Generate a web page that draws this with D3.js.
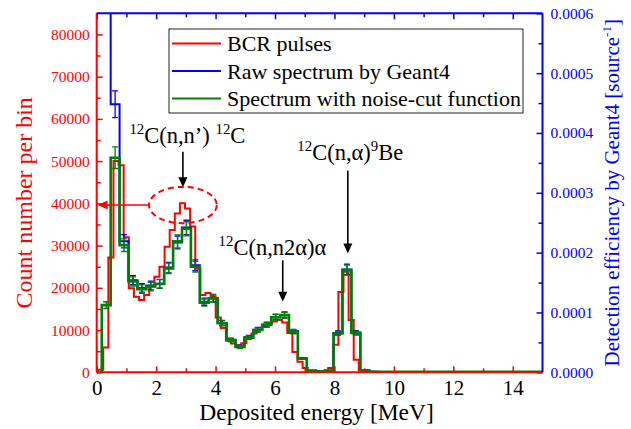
<!DOCTYPE html>
<html>
<head>
<meta charset="utf-8">
<script src="https://cdn.jsdelivr.net/npm/d3@7"></script>
<style>
  body { margin: 0; background: #fff; }
  svg { font-family: "Liberation Serif", "Times New Roman", serif; }
</style>
</head>
<body>
<div id="chart"></div>
<script>
// ---- data ----
const energyTicks = [0, 2, 4, 6, 8, 10, 12, 14];
const countTicks = [0, 10000, 20000, 30000, 40000, 50000, 60000, 70000, 80000];
const effTicks = [0, 0.0001, 0.0002, 0.0003, 0.0004, 0.0005, 0.0006];

// BCR pulses, counts per bin (bin width 0.172 MeV from 0.048 MeV)
const bcrStart = 0.048, bcrWidth = 0.172;
const bcrCounts = [
  600, 5900, 27200, 50000, 49000, 32000, 19900, 17900, 17100, 18300,
  20300, 22600, 25000, 29700, 33700, 37600, 40000, 38800, 34500, 24500,
  18300, 18800, 18000, 13000, 10500, 7500, 6800, 6400, 6900, 8200,
  9200, 10000, 10800, 11500, 12000, 12400, 11800, 9300, 4800, 2500,
  1000, 300, 200, 200, 300, 1000, 6500, 19000, 23800, 12400,
  3000, 500, 150, 120, 100, 100, 100, 90, 90, 80,
  80, 80, 70, 70, 70, 60, 60, 60, 60, 50,
  50, 50, 50, 50, 40, 40, 40, 40, 40, 40,
  30, 30, 30, 30, 30, 30, 30
];

// Spectrum with noise-cut function, counts per bin (bin width 0.3 MeV from 0.17 MeV)
const cutStart = 0.17, cutWidth = 0.3;
const cutCounts = [
  15900, 50800, 30100, 21500, 19700, 20300, 20900, 24600, 31000, 34000,
  25000, 16500, 17500, 11600, 7600, 6000, 8200, 10000, 11200, 13000,
  13500, 9600, 3200, 400, 200, 400, 9200, 24200, 9300, 500,
  120, 100, 100, 100, 100, 100, 100, 100, 100, 100,
  100, 100, 100, 100, 100, 100, 100, 100, 100, 100
];
const cutErr = [
  800, 2550, 1500, 1080, 990, 1010, 1050, 1230, 1550, 1700,
  1250, 830, 880, 580, 380, 300, 410, 500, 560, 650,
  680, 480, 160, 20, 10, 20, 460, 1210, 470, 25,
  6, 5, 5, 5, 5, 5, 5, 5, 5, 5,
  5, 5, 5, 5, 5, 5, 5, 5, 5, 5
];

// Raw spectrum by Geant4, detection efficiency per source neutron (same bins)
const rawStart = 0.17, rawWidth = 0.3;
const rawEff = [
  0.00095, 0.000448, 0.000219, 0.000154, 0.000141, 0.000145, 0.000148, 0.000175, 0.000217, 0.000242,
  0.000179, 0.000118, 0.000124, 0.0000826, 0.0000544, 0.0000431, 0.0000586, 0.0000713, 0.0000798, 0.0000925,
  0.000096, 0.0000685, 0.0000233, 0.0000028, 0.0000014, 0.0000028, 0.0000657, 0.000172, 0.0000664, 0.0000035,
  0.0000009, 0.0000007, 0.0000007, 0.0000007, 0.0000007, 0.0000007, 0.0000007, 0.0000007, 0.0000007, 0.0000007,
  0.0000007, 0.0000007, 0.0000007, 0.0000007, 0.0000007, 0.0000007, 0.0000007, 0.0000007, 0.0000007, 0.0000007
];
const rawErr = [
  0.00005, 0.0000224, 0.000011, 0.0000077, 0.000007, 0.0000073, 0.0000074, 0.0000088, 0.0000108, 0.0000121,
  0.000009, 0.0000059, 0.0000062, 0.0000041, 0.0000027, 0.0000022, 0.0000029, 0.0000036, 0.000004, 0.0000046,
  0.0000048, 0.0000034, 0.0000012, 0.0000001, 0.0000001, 0.0000001, 0.0000033, 0.0000086, 0.0000033, 0.0000002,
  0, 0, 0, 0, 0, 0, 0, 0, 0, 0,
  0, 0, 0, 0, 0, 0, 0, 0, 0, 0
];

const seriesNames = ["BCR pulses", "Raw spectrum by Geant4", "Spectrum with noise-cut function"];
const RED = "#ff0000", BLUE = "#0000ff", GREEN = "#008000";

// ---- layout ----
const width = 631, height = 429;
const margin = { top: 13.3, right: 88.5, bottom: 56.7, left: 96.7 };
const plotW = width - margin.left - margin.right;
const plotH = height - margin.top - margin.bottom;

const x = d3.scaleLinear().domain([0, 15]).range([0, plotW]);
const yL = d3.scaleLinear().domain([0, 85000]).range([plotH, 0]);
const yR = d3.scaleLinear().domain([0, 0.0006]).range([plotH, 0]);

const svg = d3.select("#chart").append("svg")
  .attr("width", width).attr("height", height);

svg.append("defs").append("clipPath").attr("id", "plotclip")
  .append("rect").attr("width", plotW).attr("height", plotH);

const plot = svg.append("g").attr("transform", `translate(${margin.left},${margin.top})`);
const marks = plot.append("g").attr("clip-path", "url(#plotclip)");

// step outline for a histogram
function stepPoints(start, w, vals, y, fromBase) {
  const pts = [];
  if (fromBase) pts.push([x(start), y(0)]);
  vals.forEach((v, i) => {
    pts.push([x(start + i * w), y(v)]);
    pts.push([x(start + (i + 1) * w), y(v)]);
  });
  return pts;
}
const line = d3.line();

function drawHist(start, w, vals, y, color, sw, fromBase) {
  marks.append("path")
    .attr("d", line(stepPoints(start, w, vals, y, fromBase)))
    .attr("fill", "none").attr("stroke", color)
    .attr("stroke-width", sw).attr("stroke-linejoin", "miter");
}

function drawErr(start, w, vals, errs, y, color) {
  const g = marks.append("g").attr("stroke", color).attr("stroke-width", 1.3);
  vals.forEach((v, i) => {
    const e = errs[i];
    if (!e) return;
    const cx = x(start + (i + 0.5) * w);
    const y1 = y(v + e), y2 = y(v - e);
    g.append("line").attr("x1", cx).attr("x2", cx).attr("y1", y1).attr("y2", y2);
    g.append("line").attr("x1", cx - 3).attr("x2", cx + 3).attr("y1", y1).attr("y2", y1);
    g.append("line").attr("x1", cx - 3).attr("x2", cx + 3).attr("y1", y2).attr("y2", y2);
  });
}

drawHist(bcrStart, bcrWidth, bcrCounts, yL, RED, 2, true);
drawHist(rawStart, rawWidth, rawEff, yR, BLUE, 2, false);
drawErr(rawStart, rawWidth, rawEff, rawErr, yR, BLUE);
drawHist(cutStart, cutWidth, cutCounts, yL, GREEN, 2.6, true);
drawErr(cutStart, cutWidth, cutCounts, cutErr, yL, GREEN);

// ---- axes ----
function styleAxis(g, color, textColor, fontSize) {
  g.select(".domain").remove();
  g.selectAll(".tick line").attr("stroke", color).attr("stroke-width", 1.5);
  g.selectAll(".tick text").attr("fill", textColor)
    .style("font-family", '"Liberation Serif","Times New Roman",serif')
    .style("font-size", fontSize + "px");
}

const minorX = d3.range(1, 15, 2);
const minorL = d3.range(5000, 85000, 10000);
const minorR = d3.range(0.00005, 0.0006, 0.0001);

// bottom (red ticks, black labels)
plot.append("g").attr("transform", `translate(0,${plotH})`)
  .call(d3.axisBottom(x).tickValues(energyTicks).tickSize(-6).tickPadding(8).tickFormat(d3.format("d")))
  .call(g => styleAxis(g, RED, "#000", 21));
plot.append("g").attr("transform", `translate(0,${plotH})`)
  .call(d3.axisBottom(x).tickValues(minorX).tickSize(-4).tickFormat(""))
  .call(g => styleAxis(g, RED, "#000", 21));

// top (blue ticks)
plot.append("g")
  .call(d3.axisTop(x).tickValues(energyTicks).tickSize(-6).tickFormat(""))
  .call(g => styleAxis(g, BLUE, BLUE, 15));
plot.append("g")
  .call(d3.axisTop(x).tickValues(minorX).tickSize(-4).tickFormat(""))
  .call(g => styleAxis(g, BLUE, BLUE, 15));

// left (red)
plot.append("g")
  .call(d3.axisLeft(yL).tickValues(countTicks).tickSize(-6).tickPadding(7).tickFormat(d3.format("d")))
  .call(g => styleAxis(g, RED, RED, 15.5));
plot.append("g")
  .call(d3.axisLeft(yL).tickValues(minorL).tickSize(-4).tickFormat(""))
  .call(g => styleAxis(g, RED, RED, 15.5));

// right (blue)
plot.append("g").attr("transform", `translate(${plotW},0)`)
  .call(d3.axisRight(yR).tickValues(effTicks).tickSize(-6).tickPadding(8).tickFormat(d3.format(".4f")))
  .call(g => styleAxis(g, BLUE, BLUE, 15.5));
plot.append("g").attr("transform", `translate(${plotW},0)`)
  .call(d3.axisRight(yR).tickValues(minorR).tickSize(-4).tickFormat(""))
  .call(g => styleAxis(g, BLUE, BLUE, 15.5));

// spines
const spine = (x1, y1, x2, y2, c) => plot.append("line")
  .attr("x1", x1).attr("y1", y1).attr("x2", x2).attr("y2", y2)
  .attr("stroke", c).attr("stroke-width", 2);
spine(0, 0, 0, plotH, RED);
spine(0, plotH, plotW, plotH, RED);
spine(0, 0, plotW, 0, BLUE);
spine(plotW, 0, plotW, plotH, BLUE);

// ---- axis titles ----
svg.append("text")
  .attr("transform", `translate(32,${margin.top + plotH / 2 + 10}) rotate(-90)`)
  .attr("text-anchor", "middle").attr("fill", RED).attr("font-size", 24)
  .text("Count number per bin");

svg.append("text")
  .attr("x", margin.left + plotW / 2 - 3).attr("y", 420)
  .attr("text-anchor", "middle").attr("fill", "#000").attr("font-size", 23.5)
  .text("Deposited energy [MeV]");

const rt = svg.append("text")
  .attr("transform", `translate(619,${margin.top + plotH / 2}) rotate(-90)`)
  .attr("text-anchor", "middle").attr("fill", BLUE).attr("font-size", 21);
rt.append("tspan").text("Detection efficiency by Geant4 [source");
rt.append("tspan").attr("font-size", 13).attr("dy", -8).text("-1");
rt.append("tspan").attr("dy", 8).text("]");

// ---- legend ----
const leg = svg.append("g");
leg.append("rect").attr("x", 169).attr("y", 29).attr("width", 354).attr("height", 84)
  .attr("fill", "#fff").attr("stroke", "#222").attr("stroke-width", 1);
[RED, BLUE, GREEN].forEach((c, i) => {
  const yy = 43.5 + i * 27.5;
  leg.append("line").attr("x1", 172).attr("x2", 221).attr("y1", yy).attr("y2", yy)
    .attr("stroke", c).attr("stroke-width", 2);
  leg.append("text").attr("x", 227).attr("y", yy + 7.5).attr("font-size", 22)
    .attr("fill", "#000").text(seriesNames[i]);
});

// ---- annotations ----
function richText(px, py, parts, size) {
  const t = plot.append("text").attr("x", px).attr("y", py)
    .attr("font-size", size).attr("fill", "#000");
  const supSize = size * 0.66, rise = size * 0.4;
  let up = false;
  parts.forEach(p => {
    const s = t.append("tspan").text(p[0]);
    if (p[1]) { s.attr("font-size", supSize); if (!up) s.attr("dy", -rise); up = true; }
    else { if (up) s.attr("dy", rise); up = false; }
  });
}
function downArrow(e, c1, c2) {
  const ax = x(e), y1 = yL(c1), y2 = yL(c2);
  plot.append("line").attr("x1", ax).attr("x2", ax).attr("y1", y1).attr("y2", y2 - 8)
    .attr("stroke", "#000").attr("stroke-width", 1.6);
  plot.append("path").attr("d", `M${ax - 4.5},${y2 - 10}L${ax + 4.5},${y2 - 10}L${ax},${y2}Z`).attr("fill", "#000");
}

richText(x(1.1), yL(54300), [["12", 1], ["C(n,n’) "], ["12", 1], ["C"]], 22.5);
downArrow(2.9, 52200, 43800);
richText(x(4.1), yL(27700), [["12", 1], ["C(n,n2α)α"]], 22.5);
downArrow(6.26, 26500, 16700);
richText(x(6.75), yL(50200), [["12", 1], ["C(n,α)"], ["9", 1], ["Be"]], 22.5);
downArrow(8.45, 47800, 28100);

// dashed ellipse around the BCR 12C(n,n') peak and arrow to the count axis
plot.append("ellipse").attr("cx", x(2.9)).attr("cy", yL(39600))
  .attr("rx", x(1.14) - x(0)).attr("ry", yL(0) - yL(4300))
  .attr("fill", "none").attr("stroke", RED).attr("stroke-width", 2).attr("stroke-dasharray", "6,4");
const hy = yL(39600);
plot.append("line").attr("x1", x(1.76)).attr("x2", x(0.3)).attr("y1", hy).attr("y2", hy)
  .attr("stroke", RED).attr("stroke-width", 1.6);
plot.append("path").attr("d", `M${x(0.03)},${hy}L${x(0.03) + 10},${hy - 4.5}L${x(0.03) + 10},${hy + 4.5}Z`).attr("fill", RED);
</script>
</body>
</html>
